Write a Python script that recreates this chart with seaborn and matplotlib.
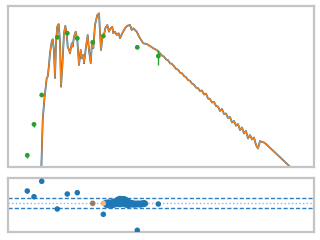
import numpy as np
import pandas as pd
import matplotlib
matplotlib.use("Agg")
import matplotlib.pyplot as plt
import matplotlib.ticker as mticker
import seaborn as sns

# ---- model spectrum (wavelength in micron, flux in arbitrary units) ----
spec_wave = [0.0778, 0.0811, 0.0849, 0.0910, 0.0936, 0.0972, 0.100, 0.105, 0.108, 0.112,
             0.1155, 0.119, 0.123, 0.1285, 0.1334, 0.1373, 0.1425, 0.1496, 0.1553, 0.1617,
             0.1664, 0.1728, 0.1778, 0.1868, 0.1922, 0.1995, 0.2096, 0.2195, 0.2304, 0.242,
             0.249, 0.261, 0.266, 0.282, 0.296, 0.307, 0.323, 0.335, 0.348, 0.365,
             0.390, 0.410, 0.422, 0.434, 0.451, 0.473, 0.491, 0.520, 0.546, 0.574,
             0.601, 0.618, 0.649, 0.682, 0.722, 0.750, 0.801, 0.866, 0.925, 1.000,
             1.050, 1.099, 1.155, 1.213, 1.270, 1.334, 1.466, 1.617, 1.778, 1.955,
             2.157, 2.371,
             2.512, 2.661, 2.818, 2.985, 3.162, 3.350, 3.548, 3.758, 3.981, 4.217,
             4.467, 4.732, 5.012, 5.309, 5.623, 5.957, 6.310, 6.683, 7.079, 7.499,
             7.943, 8.414, 8.913, 9.441, 10.0, 10.59, 11.22, 11.89, 12.59, 13.34,
             14.13, 14.96, 15.85, 16.79, 17.78, 18.84, 19.95, 21.13, 22.39, 23.71,
             25.12, 26.61, 28.18, 29.85, 31.62, 33.50, 35.48, 37.58, 39.81, 42.17,
             44.67, 47.32, 50.12, 100.0]
spec_flux = [0.00416, 0.0645, 0.193, 0.645, 0.692, 1.315, 2.54, 4.72, 5.38, 2.99,
             0.645, 4.39, 10.7, 12.4, 4.39, 0.400, 1.198, 7.48, 11.2, 7.48,
             3.59, 2.99, 2.50, 4.32, 3.59, 6.21, 8.17, 5.18, 1.315, 2.99,
             1.90, 2.28, 1.445, 3.59, 6.81, 2.99, 1.445, 4.72, 3.29, 11.8,
             20.4, 22.4, 7.48, 2.99, 5.69, 6.81, 9.84, 11.8, 8.17, 9.84,
             10.7, 7.48, 8.17, 6.81, 7.48, 5.69, 7.48, 9.84, 11.3, 11.8,
             8.96, 9.84, 8.96, 8.17, 6.81, 5.69, 4.32, 4.16, 3.73, 3.29,
             2.99, 2.50,
             2.21, 2.08, 1.79, 1.71, 1.45, 1.39, 1.225, 1.062, 1.022, 0.867,
             0.834, 0.720, 0.674, 0.578, 0.553, 0.474, 0.449, 0.381, 0.369, 0.316,
             0.325, 0.261, 0.275, 0.210, 0.204, 0.168, 0.174, 0.139, 0.135, 0.1057,
             0.1179, 0.0896, 0.0921, 0.0720, 0.0760, 0.0562, 0.0611, 0.0470, 0.0518, 0.0373,
             0.0428, 0.0308, 0.0353, 0.0234, 0.0283, 0.0221, 0.0247, 0.01638, 0.01352, 0.0204,
             0.0193, 0.0188, 0.0173, 0.00499]

# ---- photometry ----
phot_wave = [0.0520, 0.0631, 0.0788, 0.1234, 0.1645, 0.2194, 0.342, 0.464, 1.234, 2.26]
phot_flux = [0.00931, 0.0509, 0.254, 6.01, 7.48, 5.69, 4.57, 6.45, 3.47, 2.15]
phot_err = [0.0014, 0.006, 0.008, 0.18, 0.22, 0.17, 0.14, 0.19, 0.10, 0.84]

# ---- residuals ----
res_wave = [0.0520, 0.0631, 0.0788, 0.1234, 0.1645, 0.2194, 0.464, 1.234, 2.26]
res_val = [0.667, 0.350, 1.206, -0.333, 0.50, 0.572, -0.628, -1.517, -0.056]
res_brown_wave = [0.342]
res_brown_val = [-0.017]
res_light_wave = [0.464]
res_light_val = [-0.017]

clu_wave = [0.501, 0.531, 0.562, 0.596, 0.631, 0.668, 0.708, 0.750, 0.794, 0.841,
            0.891, 0.944, 1.000, 1.059, 1.122, 1.189, 1.259, 1.334, 1.413, 1.496, 1.540]
clu_upper = [0.02, 0.04, 0.03, 0.05, 0.08, 0.12, 0.20, 0.24, 0.22, 0.23,
             0.18, 0.10, 0.03, 0.00, -0.02, -0.03, -0.02, -0.03, -0.01, 0.00, -0.02]
clu_lower = [-0.10, -0.12, -0.08, -0.14, -0.10, -0.06, -0.05, -0.08, -0.04, -0.06,
             -0.10, -0.12, -0.10, -0.08, -0.10, -0.09, -0.07, -0.10, -0.08, -0.06, -0.04]

band = 0.28

sns.set_style("white")
plt.rcParams['font.family'] = ['DejaVu Sans']

fig = plt.figure(figsize=(3.2, 2.4), dpi=100)
ax1 = fig.add_axes([0.02344, 0.30625, 0.95781, 0.66875])
ax2 = fig.add_axes([0.02344, 0.03333, 0.95781, 0.22708])

spec = pd.DataFrame({"wave": spec_wave, "flux": spec_flux})
sns.lineplot(data=spec, x="wave", y="flux", ax=ax1, color="#1f77b4", lw=1.3,
             sort=False, estimator=None)
sns.lineplot(data=spec, x="wave", y="flux", ax=ax1, color="#ff7f0e", lw=0.9,
             sort=False, estimator=None)
ax1.errorbar(phot_wave, phot_flux, yerr=phot_err, fmt='none', ecolor="#2ca02c",
             elinewidth=1.0, capsize=0, zorder=4)
phot = pd.DataFrame({"wave": phot_wave, "flux": phot_flux})
sns.scatterplot(data=phot, x="wave", y="flux", ax=ax1, color="#2ca02c", s=12,
                edgecolor="none", zorder=5)

ax1.set_xscale("log")
ax1.set_yscale("log")
ax1.set_xlim(0.02943, 199.5)
ax1.set_ylim(0.00504, 33.4)

# residual panel
ax2.axhline(0, color="#8fb3d6", ls=":", lw=1.0, zorder=1)
ax2.axhline(band, color="#2f7fc0", ls=(0, (3, 1.5)), lw=1.0, zorder=1)
ax2.axhline(-band, color="#2f7fc0", ls=(0, (3, 1.5)), lw=1.0, zorder=1)
clu = pd.DataFrame({"wave": clu_wave + clu_wave, "res": clu_upper + clu_lower})
sns.scatterplot(data=clu, x="wave", y="res", ax=ax2, color="#1f77b4", s=18,
                edgecolor="none", zorder=3)
res = pd.DataFrame({"wave": res_wave, "res": res_val})
sns.scatterplot(data=res, x="wave", y="res", ax=ax2, color="#1f77b4", s=16,
                edgecolor="none", zorder=3)
sns.scatterplot(x=res_brown_wave, y=res_brown_val, ax=ax2, color="#9a7a66", s=16,
                edgecolor="none", zorder=3)
sns.scatterplot(x=res_light_wave, y=res_light_val, ax=ax2, color="#f8b27a", s=16,
                edgecolor="none", zorder=3)
ax2.set_xscale("log")
ax2.set_xlim(0.02943, 199.5)
ax2.set_ylim(-1.611, 1.417)
ax2.set_yticks([-1, 0, 1])

for ax in (ax1, ax2):
    ax.set_xlabel("")
    ax.set_ylabel("")
    for sp in ax.spines.values():
        sp.set_color("#c4c4c4")
        sp.set_linewidth(1.6)
    ax.tick_params(which="major", length=2.8, width=1.0, color="#a8a8a8",
                   labelleft=False, labelbottom=False, direction="out")
    ax.tick_params(which="minor", length=1.8, width=0.9, color="#b8b8b8",
                   labelleft=False, labelbottom=False, direction="out")
    ax.yaxis.set_minor_locator(mticker.NullLocator())
    leg = ax.get_legend()
    if leg is not None:
        leg.remove()

ax1.yaxis.set_major_locator(mticker.LogLocator(base=10, numticks=20))
ax1.yaxis.set_minor_locator(mticker.NullLocator())
ax1.tick_params(axis="y", labelleft=False)

fig.savefig("out.png", dpi=100)
